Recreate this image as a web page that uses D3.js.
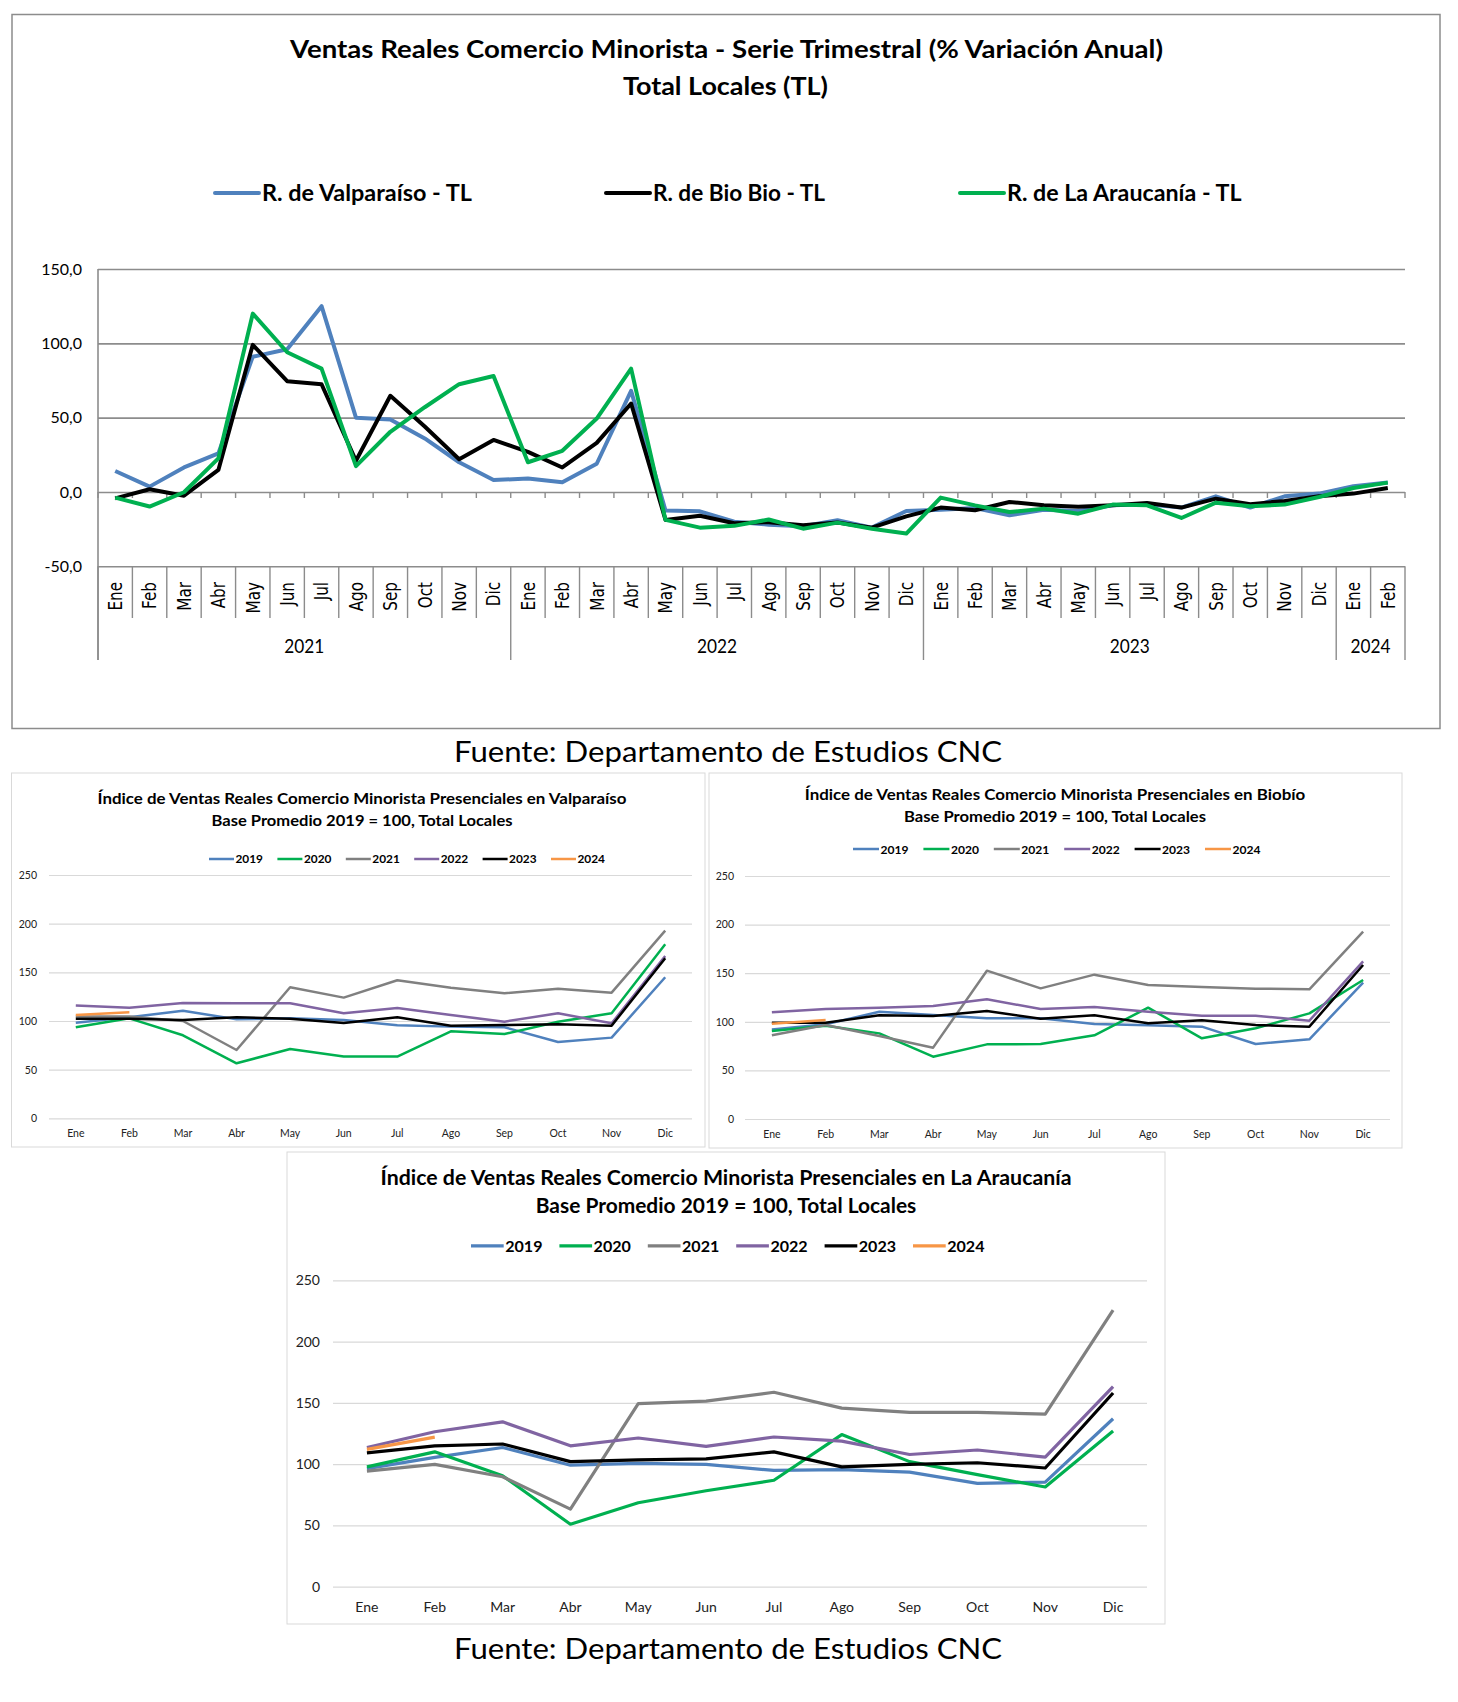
<!DOCTYPE html>
<html>
<head>
<meta charset="utf-8">
<script src="https://cdn.jsdelivr.net/npm/d3@7"></script>
<style>
  body { margin: 0; background: #fff; }
  svg { display: block; font-family: Lato, "Open Sans", sans-serif; }
</style>
</head>
<body>
<svg id="page" width="1458" height="1702"></svg>
<script>
// ---------- data ----------
const MESES = ["Ene","Feb","Mar","Abr","May","Jun","Jul","Ago","Sep","Oct","Nov","Dic"];
const ANIOS_TRIM = ["2021","2022","2023","2024"];
const MESES_POR_ANIO = [12, 12, 12, 2];
const Y_TICKS_TRIM = [-50, 0, 50, 100, 150];

const valparaisoTL = [14.1, 3.6, 16.5, 26, 91, 96, 125, 50, 48.8, 36, 20, 8,
  9, 6.5, 19, 68, -12.5, -13, -20, -22, -23, -19, -24, -12.8,
  -11.9, -10.8, -15.7, -11.9, -12.8, -9, -8.3, -10.5, -2.9, -10.5, -2.9, -1.1,
  3.8, 6.3];
const biobioTL = [-4.3, 1.8, -2.5, 14.8, 99, 74.5, 72.5, 21, 64.7, 44, 22, 35,
  27, 16.5, 33, 59.5, -18.8, -16, -21, -20.3, -22.4, -20.6, -24, -16.4,
  -10.5, -12.3, -6.7, -9, -10, -9, -7.4, -10.5, -4.5, -8.3, -6, -2.9,
  -1.1, 2.7];
const araucaniaTL = [-3.8, -9.8, -0.2, 22.6, 120, 94, 83, 17.4, 40.5, 57, 72.5, 78,
  20, 27.7, 49.4, 83, -18.8, -24, -22.8, -18.5, -24.7, -20.6, -24.7, -28,
  -3.8, -9, -13.5, -11.2, -14.6, -8.5, -9, -17.5, -7.2, -9.6, -8.5, -3.4,
  2.7, 6.3];
const SERIES_TRIM = ["R. de Valparaíso - TL", "R. de Bio Bio - TL", "R. de La Araucanía - TL"];

const ANIOS_IDX = ["2019","2020","2021","2022","2023","2024"];
const Y_TICKS_IDX = [0, 50, 100, 150, 200, 250];

const valpo2019 = [98.3, 103.8, 110.6, 101.7, 102.7, 101, 95.5, 94.2, 93.5, 78.4, 82.9, 144.9];
const valpo2020 = [93.5, 102.7, 85.3, 56.5, 71.2, 63.4, 63.4, 89.4, 86.6, 99.3, 107.9, 178.8];
const valpo2021 = [104.5, 104.5, 100, 70.2, 134.6, 124, 141.8, 134.2, 128.4, 133.2, 129.1, 192.8];
const valpo2022 = [116, 113.7, 118.5, 118.2, 118.2, 107.9, 113.4, 106.2, 99.3, 107.9, 97.6, 166.8];
const valpo2023 = [102.4, 102.4, 101, 103.8, 102.4, 97.9, 103.8, 95.2, 95.9, 96.6, 95.2, 164.4];
const valpo2024 = [106.2, 108.9];

const biobio2019 = [92.2, 97.4, 110.4, 107, 103.6, 103.6, 97.7, 96.4, 95, 77.2, 82, 140.3];
const biobio2020 = [90.5, 96, 88.1, 64.1, 76.8, 77.2, 86.1, 114.5, 83, 93.3, 108.7, 143];
const biobio2021 = [86.1, 96.7, 85.4, 73.4, 152.6, 134.4, 148.5, 137.9, 135.8, 134.1, 133.4, 192.7];
const biobio2022 = [109.7, 113.2, 114.5, 116.3, 123.1, 113.2, 115.2, 110.4, 106.3, 106.3, 101.2, 162.2];
const biobio2023 = [99.1, 99.1, 106.7, 106, 111.1, 103.2, 106.7, 98.4, 101.5, 96.7, 95, 158.4];
const biobio2024 = [98, 101.9];

const arauc2019 = [96.3, 105.5, 113.5, 99.1, 100.6, 99.7, 94.8, 95.4, 93.4, 84.2, 85.3, 137];
const arauc2020 = [97.7, 110, 90.5, 50.9, 68.4, 78.2, 86.8, 124.1, 102, 91.4, 81.3, 127];
const arauc2021 = [94.3, 99.7, 89.7, 63.2, 149.4, 151.4, 158.6, 145.7, 142.2, 142.2, 140.8, 225.6];
const arauc2022 = [113.5, 126.4, 134.5, 114.9, 121.3, 114.4, 122.1, 118.7, 107.8, 111.5, 105.7, 163.2];
const arauc2023 = [109.2, 114.9, 116.4, 102, 103.4, 104.3, 110, 97.7, 99.7, 101.1, 96.8, 158];
const arauc2024 = [112, 122];

// ---------- styles ----------
const COLORS_TRIM = ["#4F81BD", "#000000", "#00B050"];
const COLORS_IDX = ["#4F81BD", "#00B050", "#808080", "#8064A2", "#000000", "#F79646"];
const GRID_DARK = "#8C8C8C";
const GRID_LIGHT = "#D9D9D9";

const fmt = d3.formatLocale({decimal: ",", thousands: ".", grouping: [3], currency: ["$", ""], minus: "-"}).format(".1f");

const svg = d3.select("#page");

const fitText = (sel, w) => sel.attr("textLength", w).attr("lengthAdjust", "spacingAndGlyphs");

// ---------- main chart ----------
const main = svg.append("g");

main.append("rect")
  .attr("x", 12).attr("y", 14.5).attr("width", 1428).attr("height", 714)
  .attr("fill", "none").attr("stroke", GRID_DARK).attr("stroke-width", 1.5);

main.append("text").attr("x", 726.5).attr("y", 58)
  .attr("text-anchor", "middle").attr("font-weight", 700).attr("font-size", 24)
  .text("Ventas Reales Comercio Minorista - Serie Trimestral (% Variación Anual)")
  .call(fitText, 873);
main.append("text").attr("x", 725.5).attr("y", 95)
  .attr("text-anchor", "middle").attr("font-weight", 700).attr("font-size", 24)
  .text("Total Locales (TL)")
  .call(fitText, 205);

const legTrimX = [215, 606, 960];
const legTrimW = [210, 172, 234.5];
SERIES_TRIM.forEach((name, i) => {
  main.append("line")
    .attr("x1", legTrimX[i]).attr("x2", legTrimX[i] + 44)
    .attr("y1", 193).attr("y2", 193)
    .attr("stroke", COLORS_TRIM[i]).attr("stroke-width", 4).attr("stroke-linecap", "round");
  main.append("text").attr("x", legTrimX[i] + 47).attr("y", 201)
    .attr("font-weight", 700).attr("font-size", 23)
    .text(name).call(fitText, legTrimW[i]);
});

const nTrim = valparaisoTL.length;
const xT = d3.scaleBand().domain(d3.range(nTrim)).range([98, 1405]);
const yT = d3.scaleLinear().domain([-50, 150]).range([566.3, 269]);

const gridT = main.append("g")
  .attr("transform", "translate(98,0)")
  .call(d3.axisLeft(yT).tickValues(Y_TICKS_TRIM).tickSize(-(1405 - 98)).tickPadding(16).tickFormat(fmt));
gridT.select(".domain").remove();
gridT.selectAll(".tick line").attr("stroke", GRID_DARK).attr("stroke-width", 1.6);
gridT.selectAll(".tick text").attr("font-family", "Lato").attr("font-size", 16).attr("fill", "#000");

// left axis line down into label area
main.append("line").attr("x1", 98).attr("x2", 98).attr("y1", yT(150)).attr("y2", 660)
  .attr("stroke", GRID_DARK).attr("stroke-width", 1.6);

// boundaries between months
const bounds = d3.range(nTrim + 1).map(i => i < nTrim ? xT(i) : xT(nTrim - 1) + xT.bandwidth());
main.append("g").selectAll("line").data(bounds).join("line")
  .attr("x1", d => d).attr("x2", d => d)
  .attr("y1", yT(-50)).attr("y2", 618)
  .attr("stroke", GRID_DARK).attr("stroke-width", 1.4);
main.append("g").selectAll("line").data(bounds).join("line")
  .attr("x1", d => d).attr("x2", d => d)
  .attr("y1", yT(0)).attr("y2", yT(0) + 6)
  .attr("stroke", GRID_DARK).attr("stroke-width", 1.4);

// year separators and labels
let acc = 0;
const yearSpans = ANIOS_TRIM.map((a, i) => {
  const s = acc; acc += MESES_POR_ANIO[i];
  return {anio: a, start: s, end: acc};
});
const yearBounds = [0].concat(yearSpans.map(d => d.end));
main.append("g").selectAll("line").data(yearBounds).join("line")
  .attr("x1", d => bounds[d]).attr("x2", d => bounds[d])
  .attr("y1", 618).attr("y2", 660)
  .attr("stroke", GRID_DARK).attr("stroke-width", 1.4);
main.append("g").selectAll("text").data(yearSpans).join("text")
  .attr("x", d => (bounds[d.start] + bounds[d.end]) / 2).attr("y", 653)
  .attr("text-anchor", "middle").attr("font-size", 20)
  .text(d => d.anio).call(fitText, 40);

// rotated month labels
const mesesTrim = yearSpans.flatMap(d => MESES.slice(0, d.end - d.start));
main.append("g").selectAll("text").data(mesesTrim).join("text")
  .attr("transform", (d, i) => `translate(${xT(i) + xT.bandwidth() / 2},582) rotate(-90) scale(0.8,1)`)
  .attr("text-anchor", "end").attr("dy", "0.36em")
  .attr("font-family", "DejaVu Sans").attr("font-size", 19)
  .text(d => d);

const lineT = d3.line().x((d, i) => xT(i) + xT.bandwidth() / 2).y(d => yT(d));
[valparaisoTL, biobioTL, araucaniaTL].forEach((serie, i) => {
  main.append("path").datum(serie)
    .attr("d", lineT)
    .attr("fill", "none").attr("stroke", COLORS_TRIM[i]).attr("stroke-width", 4)
    .attr("stroke-linejoin", "round");
});

// ---------- fuente ----------
[762, 1659].forEach(yb => {
  svg.append("text").attr("x", 728).attr("y", yb)
    .attr("text-anchor", "middle").attr("font-size", 29)
    .text("Fuente: Departamento de Estudios CNC").call(fitText, 548);
});

// ---------- index charts ----------
function drawIndexChart(cfg, series) {
  const g = svg.append("g");
  g.append("rect")
    .attr("x", cfg.box[0]).attr("y", cfg.box[1])
    .attr("width", cfg.box[2] - cfg.box[0]).attr("height", cfg.box[3] - cfg.box[1])
    .attr("fill", "#fff").attr("stroke", GRID_LIGHT).attr("stroke-width", 1);

  g.append("text").attr("x", cfg.cx).attr("y", cfg.t1y)
    .attr("text-anchor", "middle").attr("font-weight", 700).attr("font-size", cfg.titleSize)
    .text(cfg.title).call(fitText, cfg.t1w);
  g.append("text").attr("x", cfg.cx).attr("y", cfg.t2y)
    .attr("text-anchor", "middle").attr("font-weight", 700).attr("font-size", cfg.titleSize)
    .text("Base Promedio 2019 = 100, Total Locales").call(fitText, cfg.t2w);

  ANIOS_IDX.forEach((a, i) => {
    const lx = cfg.legX + i * cfg.legStep;
    g.append("line").attr("x1", lx).attr("x2", lx + cfg.legLen)
      .attr("y1", cfg.legY).attr("y2", cfg.legY)
      .attr("stroke", COLORS_IDX[i]).attr("stroke-width", cfg.lw);
    g.append("text").attr("x", lx + cfg.legLen + 1.5).attr("y", cfg.legTextY)
      .attr("font-weight", 700).attr("font-size", cfg.legSize)
      .text(a).call(fitText, cfg.legTextW);
  });

  const x = d3.scaleBand().domain(MESES).range(cfg.xr);
  const y = d3.scaleLinear().domain([0, 250]).range([cfg.y0, cfg.y250]);

  const ga = g.append("g").attr("transform", `translate(${cfg.xr[0]},0)`)
    .call(d3.axisLeft(y).tickValues(Y_TICKS_IDX).tickSize(-(cfg.xr[1] - cfg.xr[0])).tickPadding(cfg.xr[0] - cfg.yLabX));
  ga.select(".domain").remove();
  ga.selectAll(".tick line").attr("stroke", GRID_LIGHT).attr("stroke-width", 1.2);
  ga.selectAll(".tick text").attr("font-family", "Lato").attr("font-size", cfg.tickSize).attr("fill", "#222");

  const gx = g.append("g").attr("transform", `translate(0,${cfg.xLabY})`)
    .call(d3.axisBottom(x).tickSize(0).tickPadding(0));
  gx.select(".domain").remove();
  gx.selectAll(".tick text").attr("font-family", "Lato").attr("font-size", cfg.tickSize)
    .attr("fill", "#222").attr("dy", "0.35em");

  const line = d3.line().x((d, i) => x(MESES[i]) + x.bandwidth() / 2).y(d => y(d));
  series.forEach((s, i) => {
    g.append("path").datum(s).attr("d", line)
      .attr("fill", "none").attr("stroke", COLORS_IDX[i]).attr("stroke-width", cfg.lw)
      .attr("stroke-linejoin", "round");
  });
}

drawIndexChart({
  box: [11.5, 773, 705, 1147], cx: 362, titleSize: 15,
  title: "Índice de Ventas Reales Comercio Minorista Presenciales en Valparaíso",
  t1y: 804, t1w: 529, t2y: 826, t2w: 301,
  legX: 209, legStep: 68.4, legLen: 25, legY: 859, legTextY: 863, legTextW: 27.5, legSize: 11,
  xr: [49, 692], y0: 1118.3, y250: 875, yLabX: 37, xLabY: 1133, tickSize: 10.5, lw: 2.5
}, [valpo2019, valpo2020, valpo2021, valpo2022, valpo2023, valpo2024]);

drawIndexChart({
  box: [709, 773, 1402, 1148], cx: 1055, titleSize: 15,
  title: "Índice de Ventas Reales Comercio Minorista Presenciales en Biobío",
  t1y: 800, t1w: 500.5, t2y: 822, t2w: 302,
  legX: 853, legStep: 70.4, legLen: 26, legY: 849, legTextY: 854, legTextW: 28, legSize: 11,
  xr: [745, 1390], y0: 1119, y250: 876, yLabX: 734, xLabY: 1134, tickSize: 10.5, lw: 2.5
}, [biobio2019, biobio2020, biobio2021, biobio2022, biobio2023, biobio2024]);

drawIndexChart({
  box: [287, 1152, 1165, 1624], cx: 726, titleSize: 20,
  title: "Índice de Ventas Reales Comercio Minorista Presenciales en La Araucanía",
  t1y: 1185, t1w: 691, t2y: 1212.7, t2w: 380.5,
  legX: 471, legStep: 88.4, legLen: 32.7, legY: 1245.8, legTextY: 1252, legTextW: 37.3, legSize: 15,
  xr: [333, 1147], y0: 1586.6, y250: 1280.3, yLabX: 320, xLabY: 1607, tickSize: 14, lw: 3.2
}, [arauc2019, arauc2020, arauc2021, arauc2022, arauc2023, arauc2024]);
</script>
</body>
</html>
